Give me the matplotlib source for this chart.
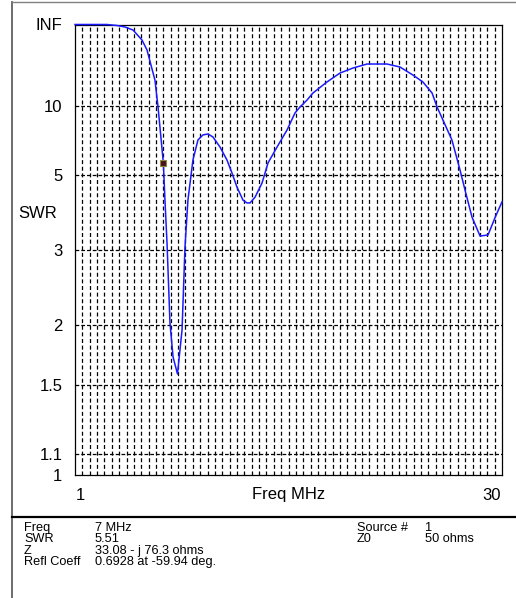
import numpy as np
import matplotlib
matplotlib.use("Agg")
import matplotlib.pyplot as plt
from matplotlib.lines import Line2D

plt.rcParams['font.family'] = ['Liberation Sans', 'DejaVu Sans']

# SWR sweep (inf = off the top of the scale)
freq_mhz = [1.0, 3.17, 3.85, 4.40, 4.94, 5.55, 5.89, 6.43, 6.64, 7.0, 7.11, 7.25,
            7.45, 7.66, 7.96, 8.27, 8.47, 8.67, 9.01, 9.35, 9.69, 10.03, 10.37,
            10.85, 11.32, 11.66, 12.00, 12.41, 12.68, 12.89, 13.23, 13.70, 14.11,
            14.72, 15.40, 15.94, 16.28, 16.76, 17.16, 18.11, 19.00, 19.88, 20.83,
            21.51, 22.19, 23.07, 23.96, 24.63, 25.25, 25.59, 25.99, 26.60, 27.15,
            27.49, 27.96, 28.51, 29.05, 29.52, 30.0]
swr = [np.inf, np.inf, 900, 360, 162, 57.1, 34.4, 15.2, 9.92, 5.51, 4.13, 3.12,
       2.02, 1.71, 1.578, 1.95, 3.05, 4.13, 5.65, 6.80, 7.16, 7.23, 7.01,
       6.35, 5.65, 5.07, 4.54, 4.13, 4.05, 4.05, 4.22, 4.68, 5.51,
       6.35, 7.54, 9.18, 9.92, 10.93, 12.15, 14.67, 17.57, 19.7, 21.8,
       21.8, 21.8, 20.2, 16.8, 14.67, 12.15, 9.92, 8.43, 6.80, 5.19,
       4.44, 3.68, 3.26, 3.28, 3.66, 4.08]

swr_ticks = [np.inf, 10, 5, 3, 2, 1.5, 1.1, 1]
swr_tick_labels = ['INF', '10', '5', '3', '2', '1.5', '1.1', '1']

marker_freq = 7.0
marker_swr = 5.51

info_left = [("Freq", "7 MHz"), ("SWR", "5.51"), ("Z", "33.08 - j 76.3 ohms"),
             ("Refl Coeff", "0.6928 at -59.94 deg.")]
info_right = [("Source #", "1"), ("Z0", "50 ohms")]


def to_rho(s):
    # reflection coefficient magnitude; the chart's vertical scale is linear in it
    s = np.asarray(s, dtype=float)
    return 1 - 2 / (s + 1)


W, H = 516, 598
fig = plt.figure(figsize=(W / 100, H / 100), dpi=100)


def fx(x):
    return x / W


def fy(y):
    return 1 - y / H


ax = fig.add_axes([fx(75), fy(475), fx(502) - fx(75), fy(24.5) - fy(475)])
ax.set_xlim(1, 30)
ax.set_ylim(0, 1)

# dotted vertical grid every 0.5 MHz
for f in np.arange(1.5, 30, 0.5):
    ax.add_line(Line2D([f, f], [0, 1], color='black', lw=0.9,
                       dashes=(3.2, 2.1), zorder=1))
# dashed horizontal lines at the SWR ticks
for r in to_rho(swr_ticks[1:-1]):
    ax.add_line(Line2D([1, 30], [r, r], color='black', lw=0.9,
                       dashes=(3, 1.6), zorder=1))

ax.plot(freq_mhz, to_rho(swr), color='#1a1aff', lw=1.1, zorder=3,
        clip_on=False)
ax.plot([marker_freq], [to_rho(marker_swr)], marker='s', ms=4.5,
        mfc='#4a1020', mec='#8a8a3a', mew=0.8, zorder=4)

ax.set_yticks(to_rho(swr_ticks))
ax.set_yticklabels(swr_tick_labels, fontsize=12)
ax.tick_params(axis='y', length=0, pad=9)
ax.set_xticks([])
for sp in ax.spines.values():
    sp.set_color('black')
    sp.set_linewidth(0.9)

fig.text(fx(57), fy(213), "SWR", ha='right', va='center', fontsize=12)
fig.text(fx(80), fy(495), "1", ha='center', va='center', fontsize=12)
fig.text(fx(289), fy(495), "Freq MHz", ha='center', va='center', fontsize=12)
fig.text(fx(501), fy(495), "30", ha='right', va='center', fontsize=12)

# window frame and divider above the readout panel
fig.add_artist(Line2D([fx(12), fx(12)], [fy(2), fy(H)], color='#606060', lw=1.3))
fig.add_artist(Line2D([fx(12), fx(W)], [fy(2), fy(2)], color='#808080', lw=1.0))
fig.add_artist(Line2D([fx(12), fx(W)], [fy(517), fy(517)], color='black', lw=1.6))

row_y = [528, 539, 551, 562]
for (lab, val), y in zip(info_left, row_y):
    fig.text(fx(24), fy(y), lab, ha='left', va='center', fontsize=9.2)
    fig.text(fx(95), fy(y), val, ha='left', va='center', fontsize=9.2)
for (lab, val), y in zip(info_right, row_y):
    fig.text(fx(357), fy(y), lab, ha='left', va='center', fontsize=9.2)
    fig.text(fx(425), fy(y), val, ha='left', va='center', fontsize=9.2)

fig.savefig("out.png", dpi=100)
